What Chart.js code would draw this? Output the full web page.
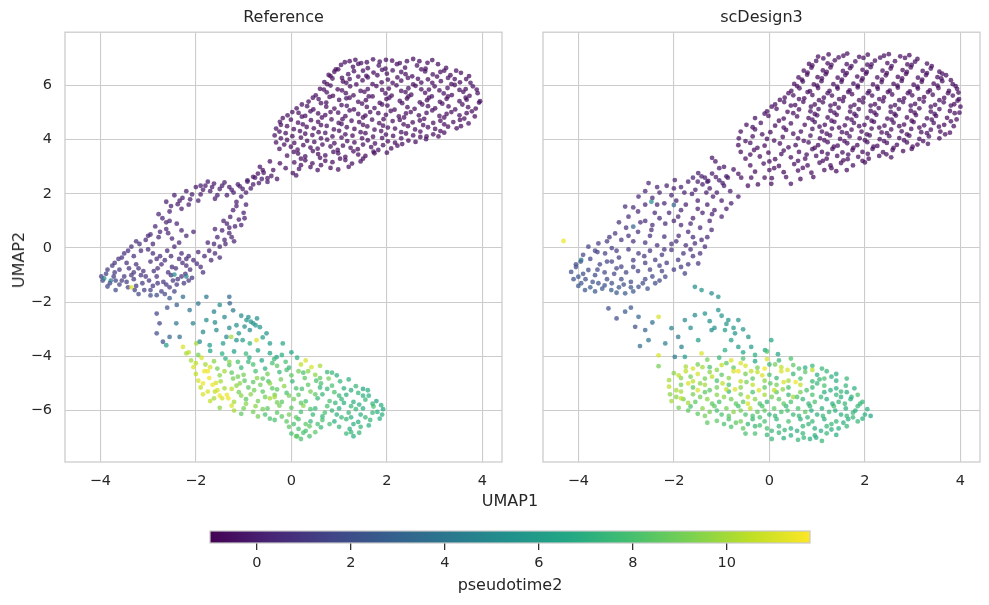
<!DOCTYPE html>
<html lang="en">
<head>
    <meta charset="UTF-8">
    <title>UMAP pseudotime2</title>
    <script src="https://cdn.jsdelivr.net/npm/chart.js@4.4.1/dist/chart.umd.min.js"></script>
    <style>
        body { margin: 0; background: #ffffff; }
        #wrap { position: relative; width: 989px; height: 605px; font-family: "DejaVu Sans", sans-serif; color: #262626; }
        .box { position: absolute; }
        .lab { position: absolute; font-size: 16px; line-height: 1; white-space: nowrap; }
        #xlab { left: 510px; top: 501px; transform: translate(-50%, -50%); }
        #ylab { left: 19px; top: 260px; transform: translate(-50%, -50%) rotate(-90deg); }
    </style>
</head>
<body>
<div id="wrap">
    <div class="box" style="left:0;top:0"><canvas id="ref" width="510" height="500"></canvas></div>
    <div class="box" style="left:510px;top:0"><canvas id="sim" width="479" height="500"></canvas></div>
    <div class="lab" id="xlab">UMAP1</div>
    <div class="lab" id="ylab">UMAP2</div>
    <div class="box" style="left:150px;top:515px"><canvas id="cbar" width="720" height="90"></canvas></div>
</div>
<script>
    // axes / colorbar
    const xTicks = [-4, -2, 0, 2, 4];
    const yTicks = [-6, -4, -2, 0, 2, 4, 6];
    const cbarTicks = [0, 2, 4, 6, 8, 10];
    const tMin = -1.0, tMax = 11.77;
    const panelTitles = ['Reference', 'scDesign3'];

    // points: [UMAP1, UMAP2, pseudotime2]
    // --- Reference ---
    const refTop = [
        [1.12,6.86,-.6],[1.34,6.95,-.7],[1.46,6.83,-.5],[1.71,6.97,-.6],[1.85,6.88,-.7],[2.11,6.92,-.6],[2.27,6.83,-.5],[2.55,6.98,-.6],[2.68,6.9,-.7],[2.95,6.94,-.6],
        [0.93,6.6,-.6],[1.04,6.76,-.5],[1.29,6.69,-.7],[1.4,6.8,-.6],[1.6,6.64,-.6],[1.83,6.74,-.5],[1.97,6.62,-.7],[2.21,6.79,-.6],[2.38,6.66,-.6],[2.63,6.74,-.5],[2.81,6.62,-.7],[3.07,6.79,-.6],[3.24,6.65,-.6],
        [0.78,6.39,-.6],[0.9,6.51,-.7],[1.19,6.42,-.5],[1.31,6.53,-.6],[1.57,6.36,-.6],[1.72,6.48,-.7],[2.0,6.44,-.6],[2.12,6.56,-.5],[2.39,6.42,-.6],[2.53,6.34,-.7],[2.8,6.52,-.6],[2.96,6.41,-.5],[3.2,6.55,-.6],[3.33,6.38,-.7],[3.55,6.47,-.6],
        [0.69,6.13,-.6],[0.86,6.26,-.5],[1.08,6.15,-.7],[1.22,6.24,-.6],[1.49,6.19,-.6],[1.6,6.3,-.5],[1.89,6.12,-.7],[2.02,6.22,-.6],[2.3,6.18,-.6],[2.44,6.28,-.5],[2.72,6.11,-.7],[2.86,6.23,-.6],[3.13,6.16,-.6],[3.28,6.28,-.5],[3.53,6.12,-.7],[3.66,6.24,-.6],
        [0.6,5.88,-.6],[0.82,6.0,-.5],[0.97,5.86,-.7],[1.23,5.97,-.6],[1.36,6.04,-.6],[1.6,5.87,-.5],[1.78,5.98,-.7],[2.04,5.89,-.6],[2.2,6.01,-.6],[2.45,5.9,-.5],[2.6,5.99,-.7],[2.88,5.85,-.6],[3.0,5.97,-.6],[3.27,5.91,-.5],[3.42,6.02,-.7],[3.65,5.87,-.6],[3.8,5.97,-.6],
        [0.51,5.64,-.6],[0.74,5.75,-.5],[0.87,5.62,-.7],[1.14,5.72,-.6],[1.3,5.64,-.6],[1.53,5.77,-.5],[1.7,5.6,-.7],[1.97,5.71,-.6],[2.1,5.63,-.6],[2.39,5.76,-.5],[2.51,5.66,-.7],[2.8,5.73,-.6],[2.94,5.6,-.6],[3.19,5.71,-.5],[3.36,5.65,-.7],[3.6,5.77,-.6],[3.73,5.62,-.6],[3.9,5.72,-.5],
        [0.36,5.41,-.6],[0.57,5.5,-.5],[0.73,5.37,-.7],[1.0,5.47,-.6],[1.15,5.53,-.6],[1.4,5.4,-.5],[1.56,5.46,-.7],[1.85,5.36,-.6],[1.99,5.5,-.6],[2.27,5.43,-.5],[2.42,5.52,-.7],[2.69,5.38,-.6],[2.84,5.46,-.6],[3.11,5.4,-.5],[3.25,5.51,-.7],[3.52,5.42,-.6],[3.67,5.48,-.6],[3.93,5.37,-.5],
        [0.11,5.16,-.6],[0.33,5.24,-.5],[0.46,5.12,-.7],[0.73,5.22,-.6],[0.9,5.15,-.6],[1.16,5.25,-.5],[1.31,5.12,-.7],[1.58,5.21,-.6],[1.74,5.17,-.6],[2.01,5.26,-.5],[2.16,5.11,-.7],[2.43,5.2,-.6],[2.58,5.14,-.6],[2.86,5.24,-.5],[3.01,5.16,-.7],[3.29,5.23,-.6],[3.43,5.12,-.6],[3.7,5.2,-.5],[3.86,5.15,-.7],
        [-0.08,4.9,-.5],[0.15,4.99,-.6],[0.29,4.88,-.6],[0.56,4.97,-.7],[0.71,4.91,-.6],[0.98,5.0,-.5],[1.13,4.87,-.6],[1.4,4.95,-.6],[1.55,4.89,-.7],[1.82,4.98,-.6],[1.98,4.92,-.5],[2.25,4.86,-.6],[2.4,4.97,-.6],[2.67,4.9,-.7],[2.83,4.99,-.6],[3.1,4.88,-.5],[3.25,4.95,-.6],[3.52,4.9,-.6],[3.67,4.98,-.7],[3.84,4.86,-.6],
        [-0.24,4.66,-.5],[-0.01,4.74,-.6],[0.14,4.63,-.6],[0.41,4.72,-.7],[0.56,4.66,-.6],[0.84,4.75,-.5],[0.99,4.62,-.6],[1.26,4.7,-.6],[1.42,4.65,-.7],[1.69,4.74,-.6],[1.84,4.61,-.5],[2.12,4.69,-.6],[2.27,4.73,-.6],[2.54,4.64,-.7],[2.69,4.71,-.6],[2.97,4.62,-.5],[3.12,4.7,-.6],[3.39,4.65,-.6],[3.53,4.73,-.7],[3.71,4.6,-.6],
        [-0.32,4.41,-.5],[-0.09,4.5,-.6],[0.05,4.39,-.6],[0.32,4.47,-.7],[0.47,4.42,-.6],[0.74,4.51,-.5],[0.89,4.38,-.6],[1.16,4.46,-.6],[1.32,4.4,-.7],[1.59,4.49,-.6],[1.74,4.37,-.5],[2.02,4.45,-.6],[2.17,4.41,-.6],[2.44,4.5,-.7],[2.59,4.38,-.6],[2.86,4.46,-.5],[3.01,4.4,-.6],[3.28,4.48,-.6],[3.46,4.42,-.7],
        [-0.35,4.16,-.5],[-0.12,4.24,-.6],[0.02,4.13,-.6],[0.29,4.22,-.7],[0.44,4.17,-.6],[0.71,4.25,-.5],[0.86,4.12,-.6],[1.13,4.2,-.6],[1.28,4.15,-.7],[1.55,4.24,-.6],[1.71,4.11,-.5],[1.98,4.19,-.6],[2.13,4.14,-.6],[2.4,4.23,-.7],[2.55,4.16,-.6],[2.83,4.12,-.5],[2.97,4.2,-.6],[3.2,4.26,-.6],
        [-0.32,3.9,-.5],[-0.09,3.99,-.6],[0.06,3.88,-.6],[0.33,3.96,-.7],[0.48,3.92,-.6],[0.75,4.0,-.5],[0.9,3.87,-.6],[1.17,3.95,-.6],[1.32,3.9,-.7],[1.6,3.98,-.6],[1.75,3.86,-.5],[2.02,3.94,-.6],[2.17,3.89,-.6],[2.45,3.97,-.7],[2.6,3.92,-.6],[2.82,4.02,-.5],
        [-0.25,3.66,-.5],[-0.01,3.74,-.6],[0.13,3.63,-.6],[0.4,3.71,-.7],[0.55,3.67,-.6],[0.82,3.75,-.5],[0.97,3.62,-.6],[1.24,3.7,-.6],[1.39,3.65,-.7],[1.67,3.73,-.6],[1.82,3.62,-.5],[2.09,3.68,-.6],[2.22,3.78,-.6],
        [-0.09,3.41,-.5],[0.14,3.49,-.6],[0.29,3.38,-.6],[0.56,3.47,-.7],[0.71,3.42,-.6],[0.98,3.5,-.5],[1.13,3.37,-.6],[1.4,3.45,-.6],[1.55,3.4,-.7],[1.74,3.5,-.6],
        [0.06,3.16,-.5],[0.29,3.24,-.6],[0.44,3.13,-.6],[0.71,3.22,-.7],[0.86,3.17,-.6],[1.13,3.25,-.5],[1.27,3.12,-.6],[1.45,3.2,-.6],
        [0.16,2.92,-.5],[0.4,2.99,-.6],[0.55,2.88,-.6],[0.82,2.96,-.7],[0.98,2.9,-.6]
    ];
    const refTopFill = [
        [1.22,6.9,-.6],[1.58,6.86,-.6],[1.98,6.95,-.6],[2.42,6.9,-.6],[2.85,6.84,-.6],
        [0.98,6.6,-.6],[1.5,6.55,-.6],[1.9,6.58,-.6],[2.3,6.5,-.6],[2.72,6.6,-.6],[3.12,6.5,-.6],[3.45,6.55,-.6],
        [0.82,6.35,-.6],[1.06,6.28,-.6],[1.4,6.33,-.6],[1.8,6.38,-.6],[2.22,6.3,-.6],[2.65,6.25,-.6],[3.05,6.33,-.6],[3.42,6.24,-.6],[3.72,6.35,-.6],
        [0.75,6.05,-.6],[1.15,6.1,-.6],[1.7,6.05,-.6],[2.12,6.1,-.6],[2.55,6.04,-.6],[2.95,6.1,-.6],[3.35,6.05,-.6],[3.75,6.1,-.6],
        [0.68,5.85,-.6],[1.06,5.82,-.6],[1.45,5.8,-.6],[1.9,5.84,-.6],[2.3,5.8,-.6],[2.72,5.86,-.6],[3.1,5.82,-.6],[3.52,5.84,-.6],[3.88,5.85,-.6],
        [0.45,5.55,-.6],[0.8,5.58,-.6],[1.22,5.55,-.6],[1.62,5.6,-.6],[2.05,5.55,-.6],[2.45,5.6,-.6],[2.88,5.55,-.6],[3.28,5.6,-.6],[3.65,5.55,-.6],
        [0.22,5.3,-.6],[0.62,5.35,-.6],[1.05,5.28,-.6],[1.48,5.33,-.6],[1.9,5.3,-.6],[2.32,5.35,-.6],[2.74,5.3,-.6],[3.16,5.33,-.6],[3.58,5.3,-.6],[3.95,5.42,-.6],
        [0.02,5.02,-.6],[0.4,5.05,-.6],[0.82,5.02,-.6],[1.22,5.08,-.6],[1.65,5.02,-.6],[2.08,5.06,-.6],[2.5,5.02,-.6],[2.95,5.08,-.6],[3.35,5.02,-.6],[3.78,5.05,-.6],
        [-0.18,4.8,-.6],[0.22,4.85,-.6],[0.64,4.82,-.6],[1.07,4.76,-.6],[1.5,4.82,-.6],[1.93,4.76,-.6],[2.36,4.82,-.6],[2.78,4.77,-.6],[3.2,4.82,-.6],[3.62,4.78,-.6],
        [-0.22,4.55,-.6],[0.24,4.57,-.6],[0.62,4.54,-.6],[1.05,4.58,-.6],[1.5,4.55,-.6],[1.92,4.52,-.6],[2.35,4.57,-.6],[2.76,4.54,-.6],[3.2,4.57,-.6],[3.55,4.5,-.6],
        [-0.25,4.3,-.6],[0.18,4.32,-.6],[0.57,4.28,-.6],[1.0,4.33,-.6],[1.45,4.28,-.6],[1.88,4.32,-.6],[2.3,4.28,-.6],[2.7,4.3,-.6],[3.12,4.32,-.6],
        [-0.22,4.05,-.6],[0.2,4.08,-.6],[0.62,4.05,-.6],[1.05,4.08,-.6],[1.48,4.05,-.6],[1.9,4.06,-.6],[2.3,4.05,-.6],[2.7,4.1,-.6],[3.08,4.12,-.6],
        [-0.15,3.82,-.6],[0.25,3.8,-.6],[0.65,3.82,-.6],[1.08,3.78,-.6],[1.5,3.82,-.6],[1.92,3.8,-.6],[2.32,3.84,-.6],
        [0.05,3.55,-.6],[0.45,3.58,-.6],[0.88,3.55,-.6],[1.3,3.57,-.6],[1.72,3.56,-.6],[2.0,3.52,-.6],
        [0.2,3.3,-.6],[0.6,3.33,-.6],[1.02,3.3,-.6],[1.5,3.3,-.6],[0.2,3.06,-.6],[0.62,3.06,-.6],[1.2,3.0,-.6]
    ];
    const refBridge = [
        [-0.8,2.63,-.3],[-0.66,3.0,-.5],[-0.6,2.88,-.4],[-0.5,2.44,-.2],[-0.38,2.88,-.5],[-0.24,3.13,-.6],[-0.12,2.95,-.5],
        [0.03,2.77,-.6],[0.1,2.68,-.5],[-0.3,2.55,-.4],[-0.92,2.5,-.2],[-0.7,2.75,-.4],[-0.45,3.2,-.5]
    ];
    const refMid = [
        [-2.62,1.71,0],[-2.45,1.95,.1],[-2.38,1.62,0],[-2.2,2.1,-.1],[-2.12,1.8,0],[-2.0,2.25,-.2],[-1.9,1.98,0],[-1.8,2.3,-.1],[-1.7,2.1,0],[-1.62,2.38,-.2],
        [-1.5,2.18,0],[-1.4,2.42,-.1],[-1.3,2.25,-.2],[-1.21,2.05,0],[-1.12,2.35,-.1],[-1.02,2.18,-.2],[-0.92,2.45,-.1],[-0.85,2.2,-.2],[-0.76,2.6,-.3],[-0.68,2.4,-.2],
        [-0.58,2.78,-.3],[-0.5,2.58,-.2],[-0.42,2.66,-.3],[-1.55,1.95,0],[-1.95,1.75,.1],[-2.3,1.45,.1],[-2.55,1.35,.1],[-2.28,1.85,0],[-1.75,2.45,-.1],[-1.35,1.95,0],
        [-1.05,1.9,0],[-0.95,1.6,.1],[-1.15,1.7,0],[-1.0,1.3,.1],[-1.22,1.4,.1],[-1.1,1.05,.1],[-1.28,1.15,.1],[-1.18,0.8,.1],[-1.35,0.9,.1],[-1.3,0.55,.2],
        [-1.45,0.65,.1],[-1.4,0.3,.2],[-1.55,0.4,.2],[-1.5,0.05,.2],[-1.62,0.15,.2],[-1.6,-0.2,.3],[-1.72,-0.1,.2],[-1.68,-0.45,.3],[-1.82,-0.3,.3],[-1.2,0.25,.2],
        [-0.98,1.1,.1],[-1.42,1.0,.1],[-1.6,0.7,.2],[-1.75,0.2,.2],[-2.7,1.1,.2],[-2.55,1.0,.2],[-2.85,0.8,.3],[-2.62,0.7,.2],[-2.95,0.5,.3],[-2.78,0.4,.3],
        [-3.05,0.3,.4],[-3.18,0.15,.5],[-2.9,0.15,.3],[-3.35,0.05,.5],[-3.15,-0.1,.5],[-3.5,-0.2,.7],[-3.3,-0.3,.6],[-3.62,-0.4,.8],[-3.45,-0.55,.7],[-3.75,-0.65,.9],
        [-3.6,-0.8,.9],[-3.88,-0.95,1.2],[-3.72,-1.05,1.1],[-3.95,-1.2,1.4],[-3.8,-1.3,1.5],[-2.4,0.9,.2],[-2.2,0.45,.3],[-2.35,0.2,.3],[-2.05,0.6,.2],[-2.5,0.35,.3],
        [-3.4,-0.75,.7],[-3.25,-0.6,.6],[-3.1,-0.85,.7],[-2.95,-0.5,.5],[-2.8,-0.75,.6],[-2.65,-0.45,.5],[-2.5,-0.7,.5],[-2.35,-0.4,.4],[-2.2,-0.65,.5],[-2.05,-0.45,.4],
        [-1.9,-0.7,.5],[-3.5,-1.05,1.0],[-3.3,-1.15,.9],[-3.15,-1.0,.8],[-2.98,-1.2,.9],[-2.82,-1.05,.7],[-2.68,-1.25,.9],[-2.52,-1.0,.7],[-2.38,-1.15,.8],[-2.22,-0.95,.6],
        [-2.08,-1.1,.8],[-3.6,-1.35,1.3],[-3.42,-1.45,1.2],[-3.25,-1.4,1.1],[-3.08,-1.55,1.3],[-2.9,-1.4,1.0],[-2.72,-1.6,1.4],[-2.55,-1.45,1.1],[-2.4,-1.35,1.0],[-2.9,-0.2,.4],
        [-2.6,-0.1,.4],[-2.3,-0.2,.4],[-2.75,-0.3,.5],[-2.45,0.05,.3],[-3.0,-0.05,.5],[-2.15,-0.3,.4],[-1.95,-0.15,.3],[-3.2,-1.7,1.6],[-2.95,-1.75,1.8],[-2.65,-1.7,1.7],
        [-2.45,-1.6,1.5],[-2.25,-1.3,.9],[-3.92,-1.12,5.0],[-3.78,-1.2,4.2],[-2.45,-0.98,5.0],[-2.2,-1.05,4.5],[-3.35,-1.45,11.2],[-3.68,-1.55,1.8],[-1.85,-0.9,.6],[-3.3,-0.9,.8]
    ];
    const refMidFill = [
        [-2.52,1.55,0],[-2.34,1.75,0],[-2.08,1.98,0],[-1.85,2.15,0],[-1.66,2.25,-.1],[-1.45,2.3,-.1],[-1.25,2.15,0],[-1.08,2.28,-.1],[-0.95,2.05,0],[-0.8,2.35,-.2],
        [-0.62,2.55,-.2],[-1.9,2.3,-.1],[-2.15,1.6,.1],[-1.6,1.82,0],[-1.15,1.55,.1],[-1.05,0.85,.1],[-1.25,0.4,.2],[-1.38,0.15,.2],[-1.5,-0.35,.3],[-1.3,0.75,.1],
        [-2.78,1.25,.2],[-2.62,0.95,.2],[-2.75,0.6,.3],[-3.0,0.45,.3],[-3.25,0.25,.5],[-3.42,-0.1,.6],[-3.55,-0.35,.7],[-3.7,-0.55,.8],[-3.85,-0.8,1.0],[-3.98,-1.05,1.3],
        [-2.58,0.55,.3],[-2.3,0.65,.3],[-3.7,-0.9,1.0],[-3.55,-1.2,1.1],[-3.35,-1.0,.9],[-3.2,-0.75,.7],[-3.05,-1.05,.8],[-2.88,-0.85,.7],[-2.72,-0.6,.5],[-2.58,-0.9,.7],
        [-2.42,-0.75,.6],[-2.28,-0.55,.5],[-2.12,-0.8,.6],[-1.98,-0.58,.5],[-3.45,-1.25,1.1],[-3.28,-1.55,1.4],[-3.12,-1.3,1.1],[-2.95,-1.55,1.3],[-2.8,-1.3,1.0],[-2.62,-1.35,1.1],
        [-2.48,-1.2,.9],[-2.3,-1.05,.8],[-2.15,-1.2,.9],[-3.85,-1.42,1.5],[-3.68,-1.2,1.3],[-2.82,-0.4,.5],[-2.52,-0.3,.4],[-2.2,-0.4,.4]
    ];
    const refTrail = [
        [-2.82,-1.74,2.0],[-2.55,-1.85,2.5],[-2.27,-1.8,3.5],[-1.78,-1.8,4.0],[-1.5,-2.1,5.0],[-1.29,-2.04,3.0],[-1.22,-2.3,4.0],[-0.94,-2.66,5.5],[-0.8,-2.78,5.5],[-0.66,-2.92,5.5],
        [-0.87,-3.03,5.0],[-0.52,-3.15,5.5],[-0.45,-3.52,6.0],[-0.18,-3.52,6.5],[-0.31,-4.03,6.5],[-2.13,-2.29,4.0],[-2.06,-2.78,4.5],[-1.78,-2.66,5.0],[-1.57,-3.03,5.0],[-1.36,-3.28,5.0],
        [-1.15,-3.4,5.5],[-2.82,-2.42,1.5],[-2.76,-2.78,1.5],[-2.82,-3.15,2.0],[-2.55,-3.28,3.0],[-2.34,-3.28,3.5],[-2.69,-3.46,2.0],[-2.62,-3.59,6.0],[-2.41,-2.78,4.0],[-2.27,-3.65,11.0],
        [-2.2,-3.89,10.0],[-1.99,-3.52,10.0],[-1.92,-3.46,5.0],[-1.71,-3.59,6.0],[-1.43,-3.52,6.0],[-1.26,-3.28,10.0],[-1.02,-3.4,6.0],[-0.87,-3.52,7.0],[-0.73,-3.4,11.0],[-1.05,-2.5,5.0],
        [-1.15,-2.85,5.5],[-0.98,-2.9,5.2],[-0.72,-2.6,5.4],[-1.4,-2.55,4.8],[-1.62,-2.35,4.5],[-1.95,-2.05,3.8],[-2.4,-2.1,2.8],[-1.85,-3.1,4.8],[-0.6,-3.3,6.0],[-1.3,-1.8,3.2],
        [-0.85,-2.72,5.5],[-0.75,-2.85,5.6],[-0.9,-2.55,5.3],[-1.3,-2.95,5.2],[-1.6,-2.75,4.9],[-2.6,-2.2,2.2],[-1.1,-3.15,5.6]
    ];
    const refLow = [
        [-2.15,-3.85,10.5],[-1.95,-3.95,9.0],[-1.7,-3.8,6.5],[-1.45,-3.9,7.0],[-1.2,-3.82,6.0],[-0.95,-3.9,7.5],[-0.7,-3.78,6.5],[-0.45,-3.88,6.5],[-0.2,-3.95,7.0],[0.0,-3.85,6.5],
        [-2.1,-4.15,10.0],[-1.88,-4.05,11.0],[-1.62,-4.18,9.5],[-1.38,-4.08,7.0],[-1.12,-4.2,8.0],[-0.88,-4.05,7.0],[-0.62,-4.15,6.5],[-0.36,-4.1,7.5],[-0.12,-4.2,8.0],[0.12,-4.05,7.0],[0.3,-4.15,11.0],
        [-2.05,-4.4,11.0],[-1.8,-4.3,10.0],[-1.55,-4.45,9.0],[-1.3,-4.32,8.5],[-1.05,-4.42,7.5],[-0.8,-4.3,8.0],[-0.55,-4.45,7.0],[-0.3,-4.35,8.5],[-0.05,-4.42,7.5],[0.2,-4.3,10.5],[0.42,-4.4,11.0],[0.6,-4.35,10.0],
        [-2.0,-4.65,10.5],[-1.75,-4.55,11.5],[-1.5,-4.7,9.5],[-1.25,-4.6,8.5],[-1.0,-4.68,9.0],[-0.75,-4.55,8.0],[-0.5,-4.65,9.0],[-0.25,-4.58,7.5],[0.0,-4.7,8.5],[0.25,-4.6,8.0],[0.5,-4.68,9.5],[0.75,-4.58,7.5],[0.95,-4.7,7.0],
        [-1.95,-4.9,11.0],[-1.72,-4.8,11.5],[-1.48,-4.92,10.0],[-1.22,-4.82,9.0],[-0.98,-4.9,8.5],[-0.72,-4.8,9.5],[-0.48,-4.92,8.0],[-0.22,-4.85,9.0],[0.02,-4.92,7.5],[0.28,-4.8,8.5],[0.52,-4.9,8.0],[0.78,-4.82,9.0],[1.02,-4.92,7.5],[1.2,-4.85,7.0],
        [-1.9,-5.15,10.5],[-1.65,-5.05,11.5],[-1.4,-5.18,10.0],[-1.15,-5.08,9.5],[-0.9,-5.15,8.5],[-0.65,-5.05,9.0],[-0.4,-5.18,8.5],[-0.15,-5.1,9.5],[0.1,-5.18,8.0],[0.35,-5.05,8.5],[0.6,-5.15,7.5],[0.85,-5.08,8.0],[1.1,-5.18,7.0],[1.35,-5.1,7.5],[1.5,-5.2,6.5],
        [-1.85,-5.4,11.0],[-1.6,-5.3,10.5],[-1.35,-5.42,11.5],[-1.1,-5.32,9.0],[-0.85,-5.4,9.5],[-0.6,-5.3,8.5],[-0.35,-5.42,9.0],[-0.1,-5.35,8.0],[0.15,-5.42,8.5],[0.4,-5.3,9.0],[0.65,-5.4,7.5],[0.9,-5.32,8.0],[1.15,-5.42,7.0],[1.4,-5.35,7.5],[1.62,-5.45,7.0],
        [-1.7,-5.65,10.5],[-1.45,-5.55,11.0],[-1.2,-5.68,10.0],[-0.95,-5.58,8.5],[-0.7,-5.65,9.0],[-0.45,-5.55,10.0],[-0.2,-5.68,8.5],[0.05,-5.58,9.0],[0.3,-5.66,8.0],[0.55,-5.55,7.5],[0.8,-5.65,8.0],[1.05,-5.58,7.5],[1.3,-5.68,7.0],[1.55,-5.6,7.5],[1.78,-5.65,6.5],[1.88,-5.8,7.0],
        [-1.5,-5.9,9.5],[-1.25,-5.82,11.0],[-1.0,-5.92,9.0],[-0.75,-5.84,9.5],[-0.5,-5.92,8.5],[-0.25,-5.82,9.0],[0.0,-5.9,8.5],[0.25,-5.82,9.5],[0.5,-5.92,7.5],[0.75,-5.84,8.0],[1.0,-5.92,7.0],[1.25,-5.84,7.5],[1.5,-5.92,7.0],[1.72,-5.85,8.0],[1.92,-5.95,6.5],
        [-1.05,-6.12,8.5],[-0.8,-6.05,9.0],[-0.55,-6.15,8.0],[-0.3,-6.08,8.5],[-0.05,-6.15,9.0],[0.2,-6.05,8.0],[0.45,-6.15,7.5],[0.7,-6.08,8.0],[0.95,-6.15,7.0],[1.2,-6.08,7.5],[1.45,-6.15,7.0],[1.7,-6.08,7.5],[1.9,-6.15,7.0],
        [-0.35,-6.35,8.0],[-0.1,-6.4,8.5],[0.15,-6.32,8.0],[0.4,-6.4,7.5],[0.65,-6.35,8.0],[0.9,-6.4,7.0],[1.15,-6.32,7.5],[1.4,-6.42,7.0],[1.65,-6.35,7.5],[1.85,-6.3,7.0],
        [-0.05,-6.6,8.5],[0.15,-6.68,8.0],[0.38,-6.58,8.5],[0.62,-6.62,7.5],[1.0,-6.6,7.5],[1.22,-6.68,7.0],[1.45,-6.6,7.5],[1.62,-6.55,7.0],
        [0.0,-6.85,8.0],[0.12,-6.95,8.5],[0.25,-6.82,8.0],[0.38,-6.95,8.0],[0.5,-6.8,8.5],[1.15,-6.85,7.5],[1.3,-6.95,7.0],[1.42,-6.82,7.5],[0.2,-7.05,8.0],
        [-1.82,-4.55,11.5],[-1.58,-4.98,11.0],[-1.32,-5.55,11.5],[-1.62,-5.55,10.0],[-1.08,-5.0,9.5],[-0.6,-4.82,8.5],[-0.1,-4.5,8.0],[0.35,-4.55,9.5],[0.62,-5.0,8.0],[-0.3,-5.7,9.0],
        [0.2,-5.72,8.5],[0.92,-5.72,7.5],[1.42,-5.78,7.0],[1.6,-5.25,7.0],[-0.78,-5.25,9.0],[-1.2,-6.0,10.0],[0.65,-6.22,7.5],[1.25,-6.25,7.0],[0.1,-6.25,8.5],[-0.45,-5.0,9.5]
    ];
    const refLowFill = [
        [-2.0,-4.25,10.5],[-1.7,-4.4,11.0],[-1.4,-4.55,10.0],[-1.12,-4.75,9.0],[-1.85,-5.0,11.5],[-1.55,-5.25,11.0],[-1.25,-5.2,10.5],[-1.5,-5.45,11.5],[-1.75,-5.3,11.0],[-1.05,-5.45,9.5],
        [-0.8,-4.95,8.5],[-0.55,-5.5,9.0],[-0.3,-5.22,8.5],[-0.05,-5.45,9.0],[0.22,-5.2,8.0],[0.5,-5.4,8.5],[0.75,-5.2,7.5],[1.0,-5.45,7.5],[1.25,-5.25,7.0],[1.5,-5.45,7.0],
        [1.7,-5.75,7.5],[1.8,-6.05,7.0],[1.55,-6.25,7.5],[1.3,-6.5,7.0],[1.05,-6.25,7.5],[0.8,-6.5,8.0],[0.55,-6.5,8.0],[0.3,-6.5,8.5],[0.05,-6.5,8.0],[-0.2,-6.22,8.5],
        [-0.45,-6.3,8.0],[-0.7,-6.22,9.0],[-0.95,-5.75,9.5],[-0.6,-5.95,9.0],[-0.35,-5.5,10.0],[0.4,-5.95,8.0],[0.85,-6.0,7.5],[1.1,-5.72,7.0],[1.35,-5.95,7.5],[0.6,-4.8,8.5],
        [0.85,-4.6,7.5],[0.15,-4.55,9.0],[-0.4,-4.25,8.0],[-0.9,-4.2,7.5],[-1.3,-4.2,9.5],[0.1,-6.95,8.5],[0.3,-6.75,8.0],[1.25,-6.8,7.5]
    ];

    // --- scDesign3 ---
    const simTop = [
        [1.02,7.07,-.6],[1.24,7.15,-.7],[1.45,7.04,-.5],[1.63,7.18,-.6],[1.88,7.06,-.6],[2.06,7.14,-.7],[2.32,7.03,-.5],[2.5,7.16,-.6],[2.74,7.08,-.6],[2.93,7.12,-.7],
        [0.83,6.8,-.6],[0.98,6.91,-.5],[1.22,6.82,-.7],[1.37,6.93,-.6],[1.62,6.79,-.6],[1.8,6.89,-.5],[2.05,6.77,-.7],[2.21,6.92,-.6],[2.47,6.83,-.6],[2.63,6.9,-.5],[2.89,6.78,-.7],[3.05,6.88,-.6],[3.3,6.81,-.6],
        [0.72,6.55,-.6],[0.88,6.66,-.5],[1.12,6.56,-.7],[1.28,6.67,-.6],[1.54,6.54,-.6],[1.69,6.64,-.5],[1.95,6.58,-.7],[2.12,6.68,-.6],[2.37,6.55,-.6],[2.54,6.63,-.5],[2.79,6.57,-.7],[2.96,6.67,-.6],[3.21,6.54,-.6],[3.38,6.63,-.5],[3.56,6.51,-.7],
        [0.61,6.3,-.6],[0.79,6.4,-.5],[1.01,6.31,-.7],[1.18,6.42,-.6],[1.43,6.29,-.6],[1.59,6.39,-.5],[1.84,6.33,-.7],[2.02,6.44,-.6],[2.26,6.3,-.6],[2.44,6.38,-.5],[2.69,6.32,-.7],[2.86,6.43,-.6],[3.11,6.29,-.6],[3.28,6.39,-.5],[3.52,6.31,-.7],[3.7,6.38,-.6],
        [0.52,6.06,-.6],[0.7,6.15,-.5],[0.93,6.04,-.7],[1.09,6.16,-.6],[1.34,6.05,-.6],[1.51,6.14,-.5],[1.76,6.07,-.7],[1.93,6.18,-.6],[2.17,6.04,-.6],[2.35,6.13,-.5],[2.6,6.06,-.7],[2.77,6.17,-.6],[3.02,6.03,-.6],[3.19,6.14,-.5],[3.44,6.07,-.7],[3.62,6.16,-.6],[3.84,6.05,-.6],
        [0.46,5.8,-.6],[0.63,5.9,-.5],[0.85,5.79,-.7],[1.02,5.91,-.6],[1.26,5.8,-.6],[1.43,5.89,-.5],[1.68,5.82,-.7],[1.85,5.93,-.6],[2.09,5.79,-.6],[2.27,5.88,-.5],[2.52,5.81,-.7],[2.69,5.92,-.6],[2.94,5.78,-.6],[3.11,5.89,-.5],[3.36,5.82,-.7],[3.54,5.91,-.6],[3.76,5.8,-.6],[3.93,5.88,-.5],
        [0.32,5.55,-.6],[0.5,5.64,-.5],[0.73,5.53,-.7],[0.9,5.65,-.6],[1.14,5.55,-.6],[1.31,5.63,-.5],[1.56,5.57,-.7],[1.73,5.68,-.6],[1.97,5.54,-.6],[2.15,5.63,-.5],[2.4,5.56,-.7],[2.57,5.67,-.6],[2.82,5.53,-.6],[2.99,5.64,-.5],[3.24,5.57,-.7],[3.42,5.66,-.6],[3.66,5.54,-.6],[3.84,5.63,-.5],[3.97,5.5,-.6],
        [0.12,5.3,-.6],[0.31,5.39,-.5],[0.54,5.28,-.7],[0.71,5.4,-.6],[0.95,5.3,-.6],[1.12,5.38,-.5],[1.37,5.32,-.7],[1.54,5.43,-.6],[1.78,5.29,-.6],[1.96,5.38,-.5],[2.21,5.31,-.7],[2.38,5.42,-.6],[2.63,5.28,-.6],[2.8,5.39,-.5],[3.05,5.32,-.7],[3.23,5.41,-.6],[3.47,5.29,-.6],[3.65,5.38,-.5],[3.87,5.31,-.7],[4.0,5.22,-.6],
        [-0.05,5.05,-.6],[0.15,5.14,-.5],[0.38,5.03,-.7],[0.62,5.12,-.6],[0.86,5.05,-.6],[1.03,5.13,-.5],[1.28,5.07,-.7],[1.45,5.18,-.6],[1.69,5.04,-.6],[1.87,5.13,-.5],[2.12,5.06,-.7],[2.29,5.17,-.6],[2.54,5.03,-.6],[2.71,5.14,-.5],[2.96,5.07,-.7],[3.14,5.16,-.6],[3.38,5.04,-.6],[3.56,5.13,-.5],[3.78,5.06,-.7],[3.98,5.0,-.6],
        [-0.3,4.8,-.6],[-0.02,4.88,-.5],[0.3,4.78,-.7],[0.58,4.86,-.6],[0.82,4.8,-.6],[1.0,4.9,-.5],[1.22,4.82,-.7],[1.41,4.92,-.6],[1.63,4.79,-.6],[1.82,4.88,-.5],[2.05,4.81,-.7],[2.24,4.92,-.6],[2.47,4.78,-.6],[2.65,4.89,-.5],[2.88,4.82,-.7],[3.07,4.91,-.6],[3.3,4.79,-.6],[3.49,4.88,-.5],[3.72,4.81,-.7],[3.92,4.75,-.6],
        [-0.48,4.55,-.6],[-0.18,4.62,-.5],[0.12,4.52,-.7],[0.45,4.6,-.6],[0.74,4.55,-.6],[0.95,4.65,-.5],[1.16,4.55,-.7],[1.36,4.66,-.6],[1.58,4.53,-.6],[1.77,4.62,-.5],[1.99,4.55,-.7],[2.19,4.66,-.6],[2.41,4.52,-.6],[2.6,4.63,-.5],[2.82,4.56,-.7],[3.02,4.65,-.6],[3.24,4.53,-.6],[3.44,4.62,-.5],[3.66,4.55,-.7],[3.86,4.5,-.6],
        [-0.6,4.3,-.6],[-0.3,4.38,-.5],[0.02,4.28,-.7],[0.35,4.36,-.6],[0.66,4.3,-.6],[0.9,4.4,-.5],[1.1,4.3,-.7],[1.31,4.41,-.6],[1.52,4.28,-.6],[1.72,4.37,-.5],[1.93,4.3,-.7],[2.14,4.41,-.6],[2.35,4.27,-.6],[2.55,4.38,-.5],[2.77,4.31,-.7],[2.97,4.4,-.6],[3.18,4.28,-.6],[3.38,4.37,-.5],[3.58,4.3,-.7],[3.78,4.26,-.6],
        [-0.64,4.05,-.6],[-0.35,4.12,-.5],[-0.05,4.03,-.7],[0.28,4.1,-.6],[0.6,4.05,-.6],[0.86,4.15,-.5],[1.06,4.05,-.7],[1.27,4.16,-.6],[1.48,4.03,-.6],[1.68,4.12,-.5],[1.89,4.05,-.7],[2.1,4.16,-.6],[2.31,4.02,-.6],[2.51,4.13,-.5],[2.72,4.06,-.7],[2.93,4.15,-.6],[3.14,4.03,-.6],[3.34,4.12,-.5],[3.56,4.05,-.7],
        [-0.65,3.8,-.6],[-0.4,3.88,-.5],[-0.1,3.78,-.7],[0.22,3.86,-.6],[0.55,3.8,-.6],[0.82,3.9,-.5],[1.02,3.8,-.7],[1.22,3.91,-.6],[1.43,3.78,-.6],[1.63,3.87,-.5],[1.84,3.8,-.7],[2.05,3.91,-.6],[2.26,3.77,-.6],[2.46,3.88,-.5],[2.67,3.81,-.7],[2.88,3.9,-.6],[3.1,3.82,-.6],[3.32,3.85,-.5],
        [-0.6,3.55,-.6],[-0.32,3.62,-.5],[-0.02,3.52,-.7],[0.3,3.6,-.6],[0.62,3.55,-.6],[0.9,3.65,-.5],[1.1,3.55,-.7],[1.32,3.66,-.6],[1.53,3.53,-.6],[1.74,3.62,-.5],[1.95,3.55,-.7],[2.16,3.66,-.6],[2.38,3.54,-.6],[2.58,3.62,-.5],[2.8,3.58,-.7],[2.98,3.66,-.6],
        [-0.5,3.3,-.6],[-0.2,3.38,-.5],[0.12,3.28,-.7],[0.45,3.35,-.6],[0.75,3.3,-.6],[0.98,3.4,-.5],[1.2,3.3,-.7],[1.42,3.4,-.6],[1.64,3.28,-.6],[1.86,3.37,-.5],[2.08,3.3,-.7],[2.3,3.4,-.6],[2.55,3.35,-.6],
        [-0.4,3.05,-.6],[-0.12,3.12,-.5],[0.2,3.03,-.7],[0.52,3.1,-.6],[0.8,3.05,-.6],[1.05,3.15,-.5],[1.28,3.05,-.7],[1.5,3.14,-.6],[1.75,3.05,-.6],[2.0,3.16,-.5],
        [-0.3,2.82,-.6],[0.0,2.88,-.5],[0.3,2.8,-.7],[0.6,2.86,-.6],[0.88,2.78,-.6],[1.15,2.88,-.5],[1.4,2.84,-.7],[1.62,2.88,-.6],
        [0.05,2.58,-.6],[0.35,2.62,-.5],[0.65,2.55,-.7],[0.92,2.62,-.6]
    ];
    const simTopFill = [
        [1.13,7.0,-.6],[1.55,7.1,-.6],[1.97,7.02,-.6],[2.4,7.1,-.6],[2.84,7.02,-.6],[3.1,6.98,-.6],
        [0.9,6.74,-.6],[1.3,6.76,-.6],[1.72,6.72,-.6],[2.14,6.78,-.6],[2.56,6.72,-.6],[2.98,6.76,-.6],[3.4,6.72,-.6],
        [0.8,6.48,-.6],[1.2,6.5,-.6],[1.62,6.46,-.6],[2.04,6.5,-.6],[2.46,6.46,-.6],[2.88,6.5,-.6],[3.3,6.46,-.6],[3.62,6.44,-.6],
        [0.68,6.22,-.6],[1.1,6.26,-.6],[1.52,6.22,-.6],[1.95,6.26,-.6],[2.36,6.22,-.6],[2.78,6.26,-.6],[3.2,6.22,-.6],[3.6,6.26,-.6],[3.8,6.2,-.6],
        [0.58,5.98,-.6],[1.0,6.0,-.6],[1.42,5.96,-.6],[1.85,6.0,-.6],[2.26,5.96,-.6],[2.68,6.0,-.6],[3.1,5.96,-.6],[3.52,6.0,-.6],[3.9,5.98,-.6],
        [0.4,5.72,-.6],[0.8,5.76,-.6],[1.22,5.72,-.6],[1.65,5.76,-.6],[2.06,5.72,-.6],[2.48,5.76,-.6],[2.9,5.72,-.6],[3.32,5.76,-.6],[3.74,5.72,-.6],[3.96,5.74,-.6],
        [0.22,5.47,-.6],[0.62,5.5,-.6],[1.04,5.46,-.6],[1.46,5.5,-.6],[1.88,5.46,-.6],[2.3,5.5,-.6],[2.72,5.46,-.6],[3.14,5.5,-.6],[3.56,5.46,-.6],[3.94,5.44,-.6],
        [0.05,5.22,-.6],[0.45,5.26,-.6],[0.87,5.22,-.6],[1.28,5.26,-.6],[1.7,5.22,-.6],[2.12,5.26,-.6],[2.54,5.22,-.6],[2.96,5.26,-.6],[3.38,5.22,-.6],[3.8,5.26,-.6],
        [-0.1,4.96,-.6],[0.5,4.98,-.6],[0.95,4.95,-.6],[1.36,5.0,-.6],[1.78,4.95,-.6],[2.2,5.0,-.6],[2.62,4.95,-.6],[3.04,5.0,-.6],[3.46,4.95,-.6],[3.88,4.98,-.6],
        [0.2,4.7,-.6],[0.9,4.74,-.6],[1.3,4.7,-.6],[1.72,4.74,-.6],[2.14,4.7,-.6],[2.56,4.74,-.6],[2.98,4.7,-.6],[3.4,4.74,-.6],[3.8,4.68,-.6],
        [-0.35,4.46,-.6],[0.3,4.45,-.6],[1.05,4.48,-.6],[1.46,4.45,-.6],[1.88,4.5,-.6],[2.3,4.45,-.6],[2.72,4.5,-.6],[3.14,4.45,-.6],[3.55,4.48,-.6],
        [-0.15,4.2,-.6],[0.5,4.22,-.6],[1.2,4.22,-.6],[1.62,4.24,-.6],[2.04,4.2,-.6],[2.46,4.24,-.6],[2.88,4.2,-.6],[3.3,4.24,-.6],[3.68,4.2,-.6],
        [-0.5,3.95,-.6],[0.1,3.97,-.6],[0.72,3.96,-.6],[1.15,3.98,-.6],[1.57,3.95,-.6],[2.0,3.98,-.6],[2.4,3.95,-.6],[2.82,3.98,-.6],[3.22,3.95,-.6],
        [-0.25,3.7,-.6],[0.4,3.72,-.6],[0.95,3.7,-.6],[1.35,3.74,-.6],[1.76,3.7,-.6],[2.18,3.74,-.6],[2.6,3.7,-.6],[3.0,3.74,-.6],
        [-0.4,3.45,-.6],[0.25,3.47,-.6],[0.78,3.45,-.6],[1.22,3.48,-.6],[1.65,3.45,-.6],[2.06,3.48,-.6],[2.45,3.46,-.6],
        [0.0,3.2,-.6],[0.6,3.22,-.6],[1.12,3.22,-.6],[1.55,3.24,-.6],[1.95,3.22,-.6],[0.1,2.95,-.6],[0.7,2.96,-.6],[1.3,2.95,-.6]
    ];
    const simBridge = [
        [-1.2,3.33,-.3],[-1.13,3.2,-.4],[-0.87,2.6,-.3],[-0.65,2.74,-.5],[-0.59,2.6,-.4],[-0.45,2.3,-.5],[-0.24,2.35,-.6],
        [0.04,2.37,-.6],[0.45,2.37,-.5],[-0.1,2.6,-.5],[-0.38,2.6,-.4],[-0.95,3.0,-.3],[-0.75,2.9,-.4],[-1.05,2.95,-.2]
    ];
    const simMid = [
        [-1.49,2.77,0],[-1.35,2.6,-.1],[-1.2,2.75,-.2],[-1.05,2.5,-.1],[-0.9,2.65,-.2],[-1.4,2.35,0],[-1.25,2.2,-.1],[-1.1,2.05,0],[-0.95,2.3,-.2],[-0.82,2.1,-.1],
        [-1.55,2.15,0],[-1.7,2.45,.1],[-1.62,2.0,0],[-1.85,2.25,.1],[-1.98,2.51,.2],[-2.15,2.3,.1],[-2.3,2.05,.2],[-2.53,2.4,.3],[-2.45,1.85,.2],[-2.74,1.9,.4],
        [-2.6,1.6,.3],[-2.2,1.65,.2],[-1.95,1.75,.1],[-1.75,1.6,.1],[-1.5,1.75,0],[-1.3,1.6,0],[-1.0,1.75,-.1],[-0.8,1.65,0],[-0.65,1.9,-.1],[-1.15,1.4,.1],
        [-1.4,1.3,.1],[-1.0,1.16,.2],[-1.25,1.0,.2],[-1.6,1.1,.2],[-1.91,1.16,.3],[-2.1,1.3,.3],[-2.4,1.3,.4],[-2.75,1.35,.5],[-3.02,1.53,.6],[-2.95,1.16,.6],
        [-2.7,0.95,.5],[-2.45,0.85,.5],[-2.18,0.9,.4],[-1.85,0.85,.3],[-1.7,0.6,.4],[-1.45,0.75,.3],[-1.21,0.67,.3],[-1.42,0.3,.4],[-1.6,0.4,.5],[-1.9,0.45,.5],
        [-2.2,0.42,.6],[-2.47,0.67,.6],[-2.75,0.6,.7],[-3.0,0.75,.8],[-3.23,0.54,.9],[-3.1,0.3,.9],[-2.85,0.25,.8],[-2.6,0.2,.8],[-2.35,0.1,.7],[-2.05,0.15,.6],
        [-1.75,0.1,.6],[-1.56,0.17,.5],[-1.35,0.05,.5],[-3.4,0.25,1.1],[-3.58,0.17,1.2],[-3.79,0.05,1.4],[-3.6,-0.15,1.4],[-3.44,-0.2,1.3],[-3.2,-0.1,1.1],[-2.95,-0.05,1.0],
        [-2.74,-0.2,1.0],[-2.5,-0.1,.9],[-2.25,-0.25,.9],[-2.05,-0.07,.8],[-1.8,-0.2,.8],[-1.6,-0.3,.8],[-1.49,-0.57,.9],[-1.7,-0.6,1.0],[-1.91,-0.44,1.0],[-2.15,-0.55,1.1],
        [-2.39,-0.44,1.1],[-2.6,-0.55,1.2],[-2.85,-0.45,1.2],[-3.1,-0.69,1.4],[-3.3,-0.5,1.4],[-3.55,-0.6,1.6],[-3.79,-0.81,1.8],[-3.95,-0.5,1.7],[-4.15,-0.88,2.0],[-4.0,-1.06,2.1],
        [-3.85,-1.15,2.0],[-3.65,-1.0,1.8],[-3.45,-0.9,1.7],[-3.25,-0.95,1.6],[-3.0,-0.9,1.5],[-2.75,-0.85,1.4],[-2.5,-0.8,1.3],[-2.25,-0.85,1.3],[-2.0,-0.8,1.2],[-1.77,-0.94,1.3],
        [-2.18,-1.06,1.6],[-2.39,-1.3,1.8],[-2.6,-1.15,1.7],[-2.74,-1.43,2.0],[-2.9,-1.25,1.9],[-3.1,-1.15,1.8],[-3.3,-1.3,2.0],[-3.58,-1.3,2.2],[-3.94,-1.3,2.3],[-3.75,-1.45,2.4],
        [-3.86,-1.55,2.5],[-3.5,-1.5,2.3],[-3.31,-1.55,2.4],[-3.02,-1.67,2.6],[-3.15,-1.45,2.2],[-2.85,-1.6,2.4],[-2.55,-1.5,2.2],[-3.94,-0.44,4.0],[-2.47,1.71,5.0],[-2.0,1.59,3.0],
        [-2.85,0.79,3.0],[-4.31,0.26,11.5],[-1.3,2.45,0],[-1.6,2.6,.1],[-2.05,1.95,.2],[-3.3,0.0,1.2],[-4.05,-0.7,1.9],[-2.3,-1.2,1.6]
    ];
    const simMidFill = [
        [-1.42,2.65,0],[-1.28,2.48,0],[-1.12,2.62,-.1],[-0.98,2.4,-.1],[-1.32,2.05,0],[-1.18,1.9,0],[-1.5,2.45,0],[-1.78,2.05,.1],[-2.0,2.2,.1],[-2.35,2.25,.2],
        [-2.6,2.1,.3],[-2.35,1.6,.3],[-1.85,1.4,.2],[-1.5,1.45,.1],[-1.2,1.25,.1],[-0.9,1.45,0],[-1.65,0.9,.3],[-2.0,1.0,.3],[-2.3,1.1,.4],[-2.6,1.0,.5],
        [-2.85,1.5,.5],[-3.15,0.95,.8],[-1.3,0.4,.4],[-1.95,0.25,.6],[-2.5,0.45,.7],[-2.95,0.45,.8],[-3.35,0.4,1.0],[-3.65,-0.1,1.4],[-3.9,-0.25,1.6],[-4.05,-0.6,1.8],
        [-3.75,-0.4,1.5],[-3.4,-0.5,1.4],[-3.15,-0.35,1.2],[-2.62,-0.3,1.0],[-2.2,-0.05,.8],[-1.65,-0.05,.6],[-1.45,-0.2,.7],[-1.85,-0.7,1.1],[-2.3,-0.65,1.2],[-2.85,-0.7,1.3],
        [-3.2,-0.75,1.5],[-3.6,-0.8,1.7],[-3.9,-0.95,1.9],[-4.1,-1.15,2.1],[-3.7,-1.25,2.2],[-3.4,-1.15,1.9],[-3.05,-1.35,2.0],[-2.65,-1.3,1.9],[-2.45,-1.05,1.6],[-3.65,-1.6,2.5],
        [-3.2,-1.65,2.5],[-2.9,-1.45,2.2],[-4.0,-1.4,2.4],[-3.45,-1.38,2.2]
    ];
    const simTrail = [
        [-3.37,-2.23,2.0],[-3.02,-2.35,2.5],[-2.74,-2.54,3.0],[-2.81,-2.91,2.0],[-2.6,-3.03,3.0],[-2.71,-3.62,3.5],[-2.53,-3.4,4.0],[-2.32,-2.54,11.0],[-2.05,-2.96,4.5],[-1.91,-3.28,4.0],
        [-2.18,-3.52,4.5],[-2.32,-3.96,11.0],[-2.32,-4.36,9.0],[-1.98,-4.02,4.0],[-1.84,-3.65,4.5],[-1.77,-2.66,5.0],[-1.56,-2.48,5.0],[-1.56,-1.43,5.0],[-1.42,-1.55,5.5],[-1.21,-1.67,5.0],
        [-1.07,-1.8,5.5],[-1.35,-2.42,5.5],[-1.07,-2.29,5.5],[-0.86,-2.66,5.5],[-0.65,-2.66,5.5],[-0.93,-3.03,6.0],[-0.72,-3.15,5.5],[-0.44,-3.28,5.5],[-0.38,-3.65,6.0],[0.04,-3.4,6.5],
        [-0.09,-3.77,6.5],[-1.21,-3.03,5.0],[-1.49,-3.4,6.0],[-1.42,-3.89,11.0],[-1.77,-4.02,6.0],[-0.65,-3.65,6.0],[-0.93,-3.77,7.0],[-2.9,-2.2,2.4],[-2.45,-2.75,3.6],[-1.25,-2.7,5.4],
        [-1.0,-2.5,5.6],[-0.75,-2.95,5.8],[-1.65,-2.95,5.2],[-3.2,-2.6,1.8],[-0.9,-2.8,5.6],[-0.55,-3.0,5.8],[-1.15,-2.95,5.4],[-0.8,-3.4,6.2]
    ];
    const simLow = [
        [-0.55,-3.85,6.5],[-0.3,-3.95,7.0],[-0.05,-3.82,8.0],[0.18,-3.92,6.5],
        [-1.3,-4.12,9.0],[-1.05,-4.05,7.5],[-0.8,-4.15,11.0],[-0.55,-4.08,8.0],[-0.3,-4.18,6.5],[-0.05,-4.1,11.0],[0.2,-4.15,7.5],[0.45,-4.08,8.0],
        [-1.75,-4.38,10.0],[-1.5,-4.3,9.0],[-1.25,-4.4,8.0],[-1.0,-4.32,10.5],[-0.75,-4.42,8.5],[-0.5,-4.35,11.0],[-0.25,-4.42,9.0],[0.0,-4.3,7.5],[0.25,-4.4,10.5],[0.5,-4.32,8.5],[0.75,-4.42,7.0],[0.9,-4.35,7.5],
        [-2.0,-4.62,9.5],[-1.75,-4.55,10.5],[-1.5,-4.65,11.0],[-1.25,-4.58,9.5],[-1.0,-4.68,8.5],[-0.75,-4.55,11.0],[-0.5,-4.65,9.0],[-0.25,-4.58,10.5],[0.0,-4.68,8.0],[0.25,-4.55,11.0],[0.5,-4.65,7.5],[0.75,-4.58,8.5],[1.0,-4.68,7.0],[1.2,-4.55,7.5],[1.4,-4.65,7.0],
        [-2.1,-4.88,10.0],[-1.85,-4.8,9.5],[-1.6,-4.92,10.5],[-1.35,-4.82,9.0],[-1.1,-4.9,8.0],[-0.85,-4.8,9.5],[-0.6,-4.92,10.5],[-0.35,-4.82,8.5],[-0.1,-4.9,9.5],[0.15,-4.8,7.5],[0.4,-4.9,10.0],[0.65,-4.82,8.0],[0.9,-4.92,7.5],[1.15,-4.82,8.0],[1.4,-4.9,7.0],[1.62,-4.82,7.5],
        [-2.1,-5.12,10.5],[-1.85,-5.05,9.0],[-1.6,-5.15,8.5],[-1.35,-5.05,10.0],[-1.1,-5.15,9.0],[-0.85,-5.05,8.0],[-0.6,-5.15,9.5],[-0.35,-5.05,10.5],[-0.1,-5.15,8.5],[0.15,-5.05,9.0],[0.4,-5.15,8.0],[0.65,-5.05,10.5],[0.9,-5.15,7.5],[1.15,-5.08,8.0],[1.4,-5.18,7.0],[1.6,-5.08,7.5],[1.78,-5.18,7.0],
        [-2.08,-5.4,9.5],[-1.85,-5.3,10.0],[-1.6,-5.4,9.0],[-1.35,-5.32,8.5],[-1.1,-5.42,9.5],[-0.85,-5.3,7.5],[-0.6,-5.4,9.0],[-0.35,-5.32,8.0],[-0.1,-5.42,10.0],[0.15,-5.32,8.5],[0.4,-5.42,7.5],[0.65,-5.32,9.0],[0.9,-5.42,8.0],[1.15,-5.32,7.0],[1.4,-5.42,7.5],[1.62,-5.32,7.0],[1.85,-5.42,8.0],
        [-2.05,-5.65,10.0],[-1.8,-5.58,9.0],[-1.55,-5.68,8.5],[-1.3,-5.58,9.5],[-1.05,-5.68,8.0],[-0.8,-5.58,9.0],[-0.55,-5.68,8.5],[-0.3,-5.58,9.5],[-0.05,-5.68,7.5],[0.2,-5.58,8.5],[0.45,-5.68,8.0],[0.7,-5.58,7.5],[0.95,-5.68,8.0],[1.2,-5.58,7.0],[1.45,-5.68,7.5],[1.7,-5.58,7.0],[1.95,-5.68,7.5],
        [-1.9,-5.9,9.0],[-1.65,-5.85,8.0],[-1.4,-5.92,9.5],[-1.15,-5.84,8.5],[-0.9,-5.92,9.0],[-0.65,-5.84,8.0],[-0.4,-5.92,10.5],[-0.15,-5.84,8.0],[0.1,-5.92,8.5],[0.35,-5.84,7.5],[0.6,-5.92,8.0],[0.85,-5.84,7.5],[1.1,-5.92,7.0],[1.35,-5.84,8.0],[1.6,-5.92,7.0],[1.85,-5.84,7.5],[2.05,-5.95,7.0],
        [-1.5,-6.12,8.5],[-1.25,-6.05,9.0],[-1.0,-6.15,8.0],[-0.75,-6.05,9.5],[-0.5,-6.15,8.0],[-0.25,-6.05,8.5],[0.0,-6.15,7.5],[0.25,-6.05,8.0],[0.5,-6.15,7.5],[0.75,-6.05,8.5],[1.0,-6.15,7.0],[1.25,-6.05,7.5],[1.5,-6.15,7.0],[1.75,-6.08,7.5],[2.0,-6.15,7.0],[2.12,-6.2,6.5],
        [-1.1,-6.38,8.5],[-0.85,-6.32,8.0],[-0.6,-6.4,9.0],[-0.35,-6.32,7.5],[-0.1,-6.4,8.0],[0.15,-6.32,7.5],[0.4,-6.4,8.0],[0.65,-6.32,7.0],[0.9,-6.4,7.5],[1.15,-6.32,7.0],[1.4,-6.4,7.5],[1.65,-6.32,7.0],[1.85,-6.4,7.5],
        [-0.8,-6.6,8.0],[-0.55,-6.66,8.5],[-0.3,-6.58,7.5],[-0.05,-6.66,8.0],[0.2,-6.58,7.5],[0.45,-6.66,7.0],[0.7,-6.58,7.5],[0.95,-6.66,7.0],[1.2,-6.58,7.5],[1.45,-6.66,7.0],[1.62,-6.58,7.5],
        [-0.3,-6.85,8.0],[-0.05,-6.9,7.5],[0.2,-6.82,7.5],[0.45,-6.92,7.0],[0.7,-6.84,7.5],[0.95,-6.92,7.0],[1.2,-6.84,7.5],[1.4,-6.9,7.0],
        [0.05,-7.05,7.5],[0.3,-7.02,7.0],[0.6,-7.08,7.5],[0.85,-7.05,7.0],[1.1,-7.12,7.5],
        [-1.6,-4.45,11.0],[-1.2,-4.75,10.5],[-0.65,-4.55,11.5],[-0.15,-4.7,11.0],[0.3,-4.95,11.0],[-0.9,-5.22,10.5],[0.5,-5.5,10.0],[-0.45,-5.75,11.0],[-1.5,-5.25,11.0],[0.1,-5.25,10.5],
        [1.0,-5.0,7.5],[1.5,-5.5,7.0],[0.8,-6.25,7.5],[-0.2,-6.25,8.0],[1.3,-6.7,7.0],[-1.85,-5.55,10.5],[0.9,-4.5,10.5],[1.3,-4.75,7.0]
    ];
    const simLowFill = [
        [-1.9,-4.7,10.5],[-1.65,-4.75,9.0],[-1.4,-4.4,10.0],[-1.1,-4.5,9.5],[-0.9,-4.25,8.5],[-0.6,-4.25,11.0],[-0.38,-4.55,10.5],[-0.1,-4.45,11.5],[0.12,-4.3,9.0],[0.38,-4.5,11.0],
        [0.62,-4.45,8.0],[1.1,-4.45,7.5],[-1.95,-5.25,10.0],[-1.7,-5.0,11.0],[-1.45,-5.0,9.5],[-1.25,-5.25,8.5],[-0.98,-5.0,10.5],[-0.72,-5.22,11.0],[-0.48,-4.95,9.0],[-0.22,-5.25,11.0],
        [0.02,-5.0,8.5],[0.28,-5.22,9.5],[0.55,-4.95,11.5],[0.78,-5.25,8.0],[1.05,-4.85,7.5],[1.28,-5.25,7.0],[1.5,-5.3,7.5],[1.72,-5.5,7.0],[1.9,-5.75,7.5],[-1.95,-5.5,9.5],
        [-1.7,-5.72,10.0],[-1.45,-5.5,9.0],[-1.2,-5.75,8.5],[-0.95,-5.5,9.5],[-0.7,-5.75,8.5],[-0.45,-5.5,10.5],[-0.2,-5.75,8.0],[0.05,-5.5,9.0],[0.3,-5.75,8.5],[0.58,-5.5,8.0],
        [0.82,-5.75,7.5],[1.08,-5.5,7.5],[1.32,-5.75,7.0],[1.58,-5.75,7.5],[1.8,-6.0,7.0],[-1.7,-6.0,8.5],[-1.35,-6.2,9.0],[-1.1,-6.0,8.0],[-0.85,-6.2,8.5],[-0.6,-6.0,9.0],
        [-0.35,-6.2,8.0],[-0.1,-6.0,8.5],[0.12,-6.2,7.5],[0.38,-6.0,8.0],[0.62,-6.2,7.5],[0.88,-6.0,7.0],[1.12,-6.2,7.5],[1.38,-6.0,7.0],[1.62,-6.2,7.5],[1.95,-6.3,7.0],
        [-0.95,-6.5,8.0],[-0.7,-6.45,8.5],[-0.45,-6.5,7.5],[-0.2,-6.55,8.0],[0.05,-6.75,7.5],[0.32,-6.72,7.5],[0.58,-6.75,7.0],[0.82,-6.5,7.5],[1.08,-6.75,7.0],[1.3,-6.5,7.5],
        [1.55,-6.45,7.0],[1.75,-6.25,7.5],[0.72,-7.0,7.5],[0.98,-7.0,7.0],[-0.5,-6.85,8.0],[-1.3,-6.45,8.5]
    ];

    // viridis colormap
    const viridisStops = ['#440154', '#482475', '#414487', '#355f8d', '#2a788e', '#21918c', '#22a884', '#44bf70', '#7ad151', '#bddf26', '#fde725'];
    function hexRgb(h) {
        return [parseInt(h.slice(1, 3), 16), parseInt(h.slice(3, 5), 16), parseInt(h.slice(5, 7), 16)];
    }
    function viridis(t, a) {
        let u = (t - tMin) / (tMax - tMin);
        u = Math.max(0, Math.min(1, u));
        const p = u * 10;
        const i = Math.min(9, Math.floor(p));
        const f = p - i;
        const c0 = hexRgb(viridisStops[i]), c1 = hexRgb(viridisStops[i + 1]);
        const c = c0.map((v, k) => Math.round(v + (c1[k] - v) * f));
        return 'rgba(' + c[0] + ',' + c[1] + ',' + c[2] + ',' + a + ')';
    }

    const fmt = v => v < 0 ? '\u2212' + Math.abs(v) : String(v);
    const font = { family: 'DejaVu Sans', size: 14.5 };
    const ink = '#262626';
    const gridColor = '#cccccc';

    // frame round the plot area
    const frame = {
        id: 'frame',
        afterDraw(chart) {
            const { ctx, chartArea: a } = chart;
            ctx.save();
            ctx.strokeStyle = gridColor;
            ctx.lineWidth = 1.3;
            ctx.strokeRect(a.left, a.top, a.right - a.left, a.bottom - a.top);
            ctx.restore();
        }
    };

    function panel(id, title, groups, showY, padRight) {
        const pts = [].concat(...groups);
        new Chart(document.getElementById(id), {
            type: 'scatter',
            data: {
                datasets: [{
                    data: pts.map(p => ({ x: p[0], y: p[1] })),
                    pointBackgroundColor: pts.map(p => viridis(p[2], 0.72)),
                    pointBorderWidth: 0,
                    pointRadius: 2.4,
                    pointHoverRadius: 2.4
                }]
            },
            options: {
                responsive: false,
                animation: false,
                events: [],
                layout: { padding: { left: 0, right: padRight, top: 0, bottom: 0 } },
                plugins: {
                    legend: { display: false },
                    tooltip: { enabled: false },
                    title: {
                        display: true, text: title, fullSize: false, color: ink,
                        font: { family: 'DejaVu Sans', size: 16, weight: 'normal' },
                        padding: { top: 8, bottom: 5 }
                    }
                },
                scales: {
                    x: {
                        type: 'linear', min: -4.74, max: 4.41,
                        afterBuildTicks: s => { s.ticks = xTicks.map(v => ({ value: v })); },
                        afterFit: s => { s.height = 38; },
                        grid: { color: gridColor, lineWidth: 1.1, drawTicks: false },
                        border: { display: false },
                        ticks: { padding: 11, color: ink, font: font, callback: fmt }
                    },
                    y: {
                        type: 'linear', min: -7.9, max: 7.97,
                        afterBuildTicks: s => { s.ticks = yTicks.map(v => ({ value: v })); },
                        afterFit: s => { s.width = showY ? 65 : 33; },
                        grid: { color: gridColor, lineWidth: 1.1, drawTicks: false },
                        border: { display: false },
                        ticks: { display: showY, padding: 13, color: ink, font: font, callback: fmt }
                    }
                }
            },
            plugins: [frame]
        });
    }

    panel('ref', panelTitles[0], [refTop, refTopFill, refBridge, refMid, refMidFill, refTrail, refLow, refLowFill], true, 8);
    panel('sim', panelTitles[1], [simTop, simTopFill, simBridge, simMid, simMidFill, simTrail, simLow, simLowFill], false, 9);

    // colorbar
    const gradientBar = {
        id: 'gradientBar',
        beforeDatasetsDraw(chart) {
            const { ctx, chartArea: a } = chart;
            const g = ctx.createLinearGradient(a.left, 0, a.right, 0);
            viridisStops.forEach((c, i) => g.addColorStop(i / 10, c));
            ctx.save();
            ctx.fillStyle = g;
            ctx.fillRect(a.left, a.top, a.right - a.left, a.bottom - a.top);
            ctx.strokeStyle = '#c8c8c8';
            ctx.lineWidth = 1.2;
            ctx.strokeRect(a.left, a.top, a.right - a.left, a.bottom - a.top);
            ctx.restore();
        }
    };
    new Chart(document.getElementById('cbar'), {
        type: 'scatter',
        data: { datasets: [{ data: [] }] },
        options: {
            responsive: false,
            animation: false,
            events: [],
            layout: { padding: { left: 60, right: 60, top: 16, bottom: 0 } },
            plugins: { legend: { display: false }, tooltip: { enabled: false } },
            scales: {
                x: {
                    type: 'linear', min: tMin, max: tMax,
                    afterBuildTicks: s => { s.ticks = cbarTicks.map(v => ({ value: v })); },
                    afterFit: s => { s.height = 62; },
                    grid: { drawOnChartArea: false, drawTicks: true, tickLength: 7, color: '#333333', lineWidth: 1.3 },
                    border: { display: false },
                    ticks: { padding: 5, color: ink, font: font, callback: fmt },
                    title: {
                        display: true, text: 'pseudotime2', color: ink,
                        font: { family: 'DejaVu Sans', size: 16 },
                        padding: { top: 0, bottom: 10 }
                    }
                },
                y: { display: false, min: 0, max: 1 }
            }
        },
        plugins: [gradientBar]
    });
</script>
</body>
</html>
